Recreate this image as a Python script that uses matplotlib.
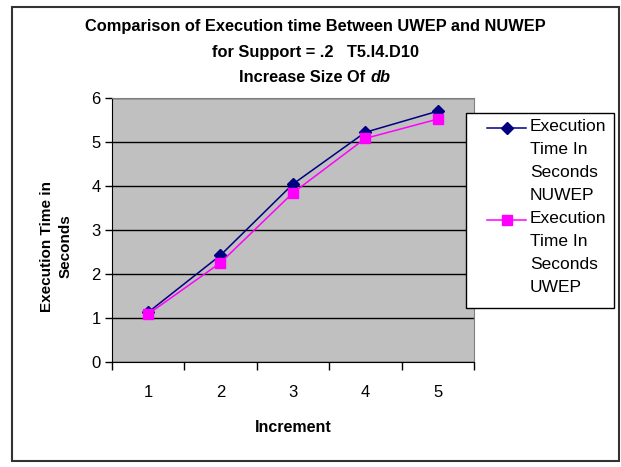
import matplotlib.pyplot as plt
from matplotlib.lines import Line2D
from matplotlib.patches import Rectangle

plt.rcParams['font.family'] = ['Liberation Sans', 'DejaVu Sans']

# execution times in seconds per increment of db size
increments = [1, 2, 3, 4, 5]
nuwep = [1.12, 2.42, 4.04, 5.22, 5.70]
uwep = [1.08, 2.25, 3.84, 5.08, 5.52]
yticks = [0, 1, 2, 3, 4, 5, 6]

W, H = 621, 467
fig = plt.figure(figsize=(W / 100, H / 100), dpi=100)


def px(x, y):
    # pixel position (from top-left) -> figure fraction
    return x / W, 1 - y / H


# outer frame
fig.patches.append(Rectangle(px(12, 461), 607 / W, 454 / H, transform=fig.transFigure,
                             fill=False, edgecolor='#333333', linewidth=1.5))

left, right, top, bottom = 111.7, 474, 98, 361.7
ax = fig.add_axes([left / W, 1 - bottom / H, (right - left) / W, (bottom - top) / H])
ax.set_facecolor('#c0c0c0')

ax.plot(increments, nuwep, '-D', color='#000080', markersize=6, linewidth=1.1)
ax.plot(increments, uwep, '-s', color='#ff00ff', markersize=7, linewidth=1.1)

ax.set_xlim(0.5, 5.5)
ax.set_ylim(0, 6)
ax.set_yticks(yticks)
ax.set_yticklabels([str(v) for v in yticks], fontsize=12)
ax.yaxis.grid(True, color='black', linewidth=1)
ax.set_axisbelow(True)

# category ticks sit between the categories, labels at the centres
ax.set_xticks([0.5, 1.5, 2.5, 3.5, 4.5, 5.5])
ax.set_xticklabels([])
ax.set_xticks(increments, minor=True)
ax.set_xticklabels([str(v) for v in increments], minor=True, fontsize=12)
ax.tick_params(axis='x', which='major', length=6, width=1, direction='out')
ax.tick_params(axis='x', which='minor', length=0, pad=17)
ax.tick_params(axis='y', length=5, width=1, direction='out', pad=3)

for s in ['top', 'right']:
    ax.spines[s].set_color('#808080')
for s in ['left', 'bottom']:
    ax.spines[s].set_color('black')

# titles
fig.text(*px(315, 27), 'Comparison of Execution time Between UWEP and NUWEP',
         ha='center', va='center', fontsize=11.8, fontweight='bold')
fig.text(*px(315, 52), 'for Support = .2   T5.I4.D10',
         ha='center', va='center', fontsize=11.8, fontweight='bold')
fig.text(*px(370, 77), 'Increase Size Of ', ha='right', va='center',
         fontsize=11.8, fontweight='bold')
fig.text(*px(371, 77), 'db', ha='left', va='center',
         fontsize=11.8, fontweight='bold', style='italic')

fig.text(*px(293, 428), 'Increment', ha='center', va='center',
         fontsize=11.5, fontweight='bold')
fig.text(*px(56, 246), 'Execution Time in\nSeconds', ha='center', va='center',
         rotation=90, fontsize=11, fontweight='bold', linespacing=1.4)

# legend box
fig.patches.append(Rectangle(px(466, 308), 148 / W, 195 / H, transform=fig.transFigure,
                             facecolor='white', edgecolor='black', linewidth=1))
entries = [('Execution\nTime In\nSeconds\nNUWEP', '#000080', 'D', 6, 128),
           ('Execution\nTime In\nSeconds\nUWEP', '#ff00ff', 's', 7, 220)]
for label, color, marker, ms, y in entries:
    x0, y0 = px(487, y)
    x1, _ = px(526, y)
    fig.add_artist(Line2D([x0, x1], [y0, y0], transform=fig.transFigure, color=color,
                          linewidth=1.1))
    fig.add_artist(Line2D([(x0 + x1) / 2], [y0], transform=fig.transFigure, color=color,
                          marker=marker, markersize=ms))
    fig.text(*px(530, y - 9), label, ha='left', va='top', fontsize=12.5,
             linespacing=1.68)

fig.savefig('out.png', dpi=100)
